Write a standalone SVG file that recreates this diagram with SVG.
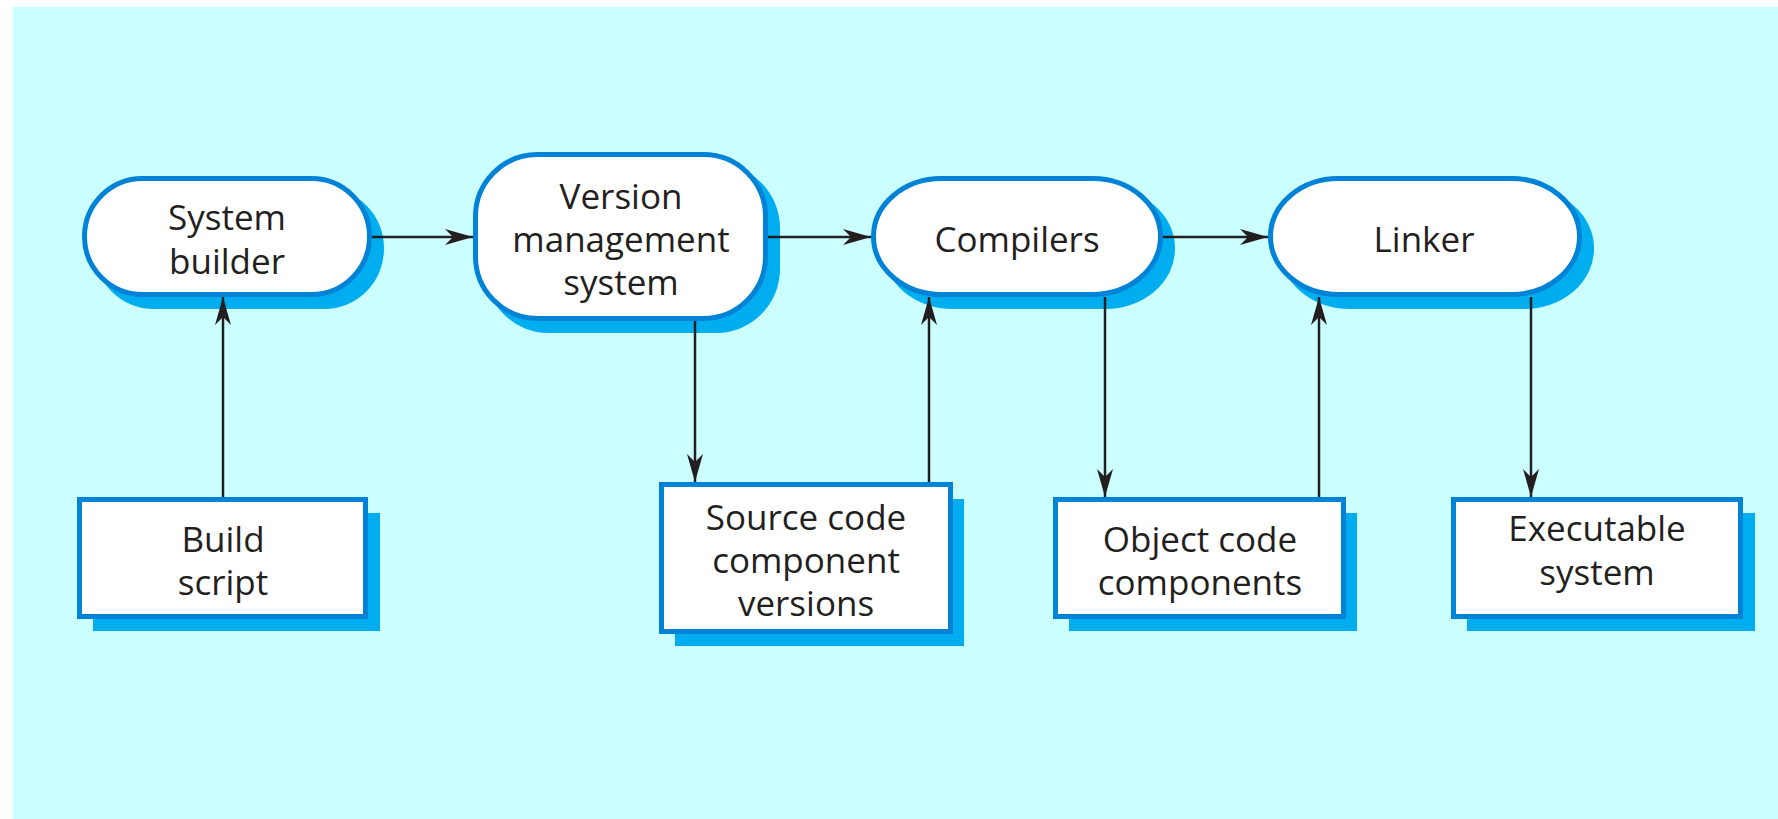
<svg xmlns="http://www.w3.org/2000/svg" width="1778" height="819" viewBox="0 0 1778 819">
<style>
.node{fill:#fff;stroke:#0082D6;stroke-width:5}
.shadow{fill:#00AEEF}
.lbl{font-family:"Open Sans","Noto Sans",sans-serif;font-size:35px;fill:#231F20;text-anchor:middle}
.conn{stroke:#231F20;stroke-width:2.5;fill:none;marker-end:url(#arr)}
</style>
<defs>
<marker id="arr" markerUnits="userSpaceOnUse" markerWidth="30" markerHeight="20" viewBox="-29 -10 30 20" refX="0" refY="0" orient="auto">
<path d="M0,0 L-28,-8 L-20,0 L-28,8 Z" fill="#231F20"/>
</marker>
</defs>
<rect x="13" y="7" width="1765" height="812" fill="#CCFFFF"/>
<g id="system-builder">
<rect class="shadow" x="94" y="188" width="290" height="121" rx="60" ry="60"/>
<rect class="node" x="84.5" y="178.5" width="285" height="116" rx="58" ry="58"/>
<text class="lbl" x="227" y="230">System</text>
<text class="lbl" x="227" y="274">builder</text>
</g>
<g id="version-management">
<rect class="shadow" x="485" y="164" width="295" height="169" rx="64" ry="64"/>
<rect class="node" x="475.5" y="154.5" width="290" height="164" rx="62" ry="62"/>
<text class="lbl" x="621" y="209">Version</text>
<text class="lbl" x="621" y="252">management</text>
<text class="lbl" x="621" y="295">system</text>
</g>
<g id="compilers">
<rect class="shadow" x="883" y="188" width="292" height="121" rx="70" ry="60"/>
<rect class="node" x="873.5" y="178.5" width="287" height="116" rx="68" ry="58"/>
<text class="lbl" x="1017" y="252">Compilers</text>
</g>
<g id="linker">
<rect class="shadow" x="1280" y="188" width="314" height="121" rx="70" ry="60"/>
<rect class="node" x="1270.5" y="178.5" width="309" height="116" rx="68" ry="58"/>
<text class="lbl" x="1424" y="252">Linker</text>
</g>
<g id="build-script">
<rect class="shadow" x="93" y="513" width="287" height="118"/>
<rect class="node" x="79.5" y="499.5" width="286" height="117"/>
<text class="lbl" x="223" y="552">Build</text>
<text class="lbl" x="223" y="595">script</text>
</g>
<g id="source-code">
<rect class="shadow" x="675" y="499" width="289" height="147"/>
<rect class="node" x="661.5" y="484.5" width="289" height="147"/>
<text class="lbl" x="806" y="530">Source code</text>
<text class="lbl" x="806" y="573">component</text>
<text class="lbl" x="806" y="616">versions</text>
</g>
<g id="object-code">
<rect class="shadow" x="1069" y="513" width="288" height="118"/>
<rect class="node" x="1055.5" y="499.5" width="288" height="117"/>
<text class="lbl" x="1200" y="552">Object code</text>
<text class="lbl" x="1200" y="595">components</text>
</g>
<g id="executable">
<rect class="shadow" x="1467" y="513" width="288" height="118"/>
<rect class="node" x="1453.5" y="499.5" width="287" height="117"/>
<text class="lbl" x="1597" y="541">Executable</text>
<text class="lbl" x="1597" y="585">system</text>
</g>
<g id="connectors">
<line class="conn" x1="372" y1="237" x2="473" y2="237"/>
<line class="conn" x1="768" y1="237" x2="871" y2="237"/>
<line class="conn" x1="1163" y1="237" x2="1268" y2="237"/>
<line class="conn" x1="223" y1="497" x2="223" y2="297"/>
<line class="conn" x1="695" y1="321" x2="695" y2="482"/>
<line class="conn" x1="929" y1="482" x2="929" y2="297"/>
<line class="conn" x1="1105" y1="297" x2="1105" y2="497"/>
<line class="conn" x1="1319" y1="497" x2="1319" y2="297"/>
<line class="conn" x1="1531" y1="297" x2="1531" y2="497"/>
</g>
</svg>
